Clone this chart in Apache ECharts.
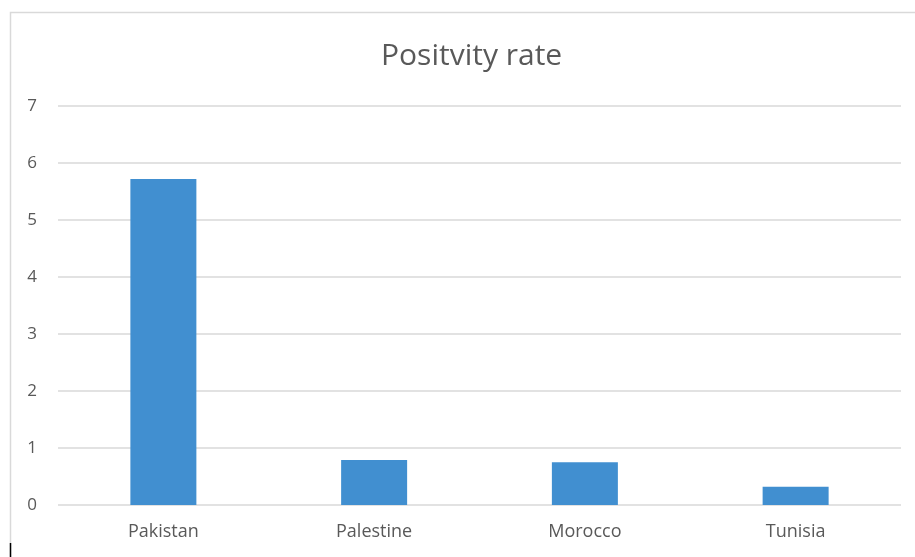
<!DOCTYPE html>
<html>
<head>
<meta charset="utf-8">
<script src="https://cdn.jsdelivr.net/npm/echarts@6/dist/echarts.min.js"></script>
<style>
  html, body { margin: 0; padding: 0; background: #fff; }
  #chart { width: 915px; height: 557px; }
</style>
</head>
<body>
<div id="chart"></div>
<script>
// data
const countries = ["Pakistan", "Palestine", "Morocco", "Tunisia"];
const positivity = [5.72, 0.79, 0.75, 0.32];
const yTicks = [0, 1, 2, 3, 4, 5, 6, 7];

const chart = echarts.init(document.getElementById("chart"));

chart.setOption({
  backgroundColor: "#fff",
  animation: false,
  title: {
    text: "Positvity rate",
    left: 376,
    top: 36,
    textStyle: {
      fontFamily: "Open Sans",
      fontWeight: "normal",
      fontSize: 30,
      color: "#595959",
    },
  },
  grid: { left: 58, right: 14, top: 106, bottom: 52 },
  xAxis: {
    type: "category",
    data: countries,
    axisLine: { show: false },
    axisTick: { show: false },
    axisLabel: {
      color: "#595959",
      fontFamily: "Open Sans",
      fontSize: 18,
      margin: 18,
    },
  },
  yAxis: {
    type: "value",
    min: yTicks[0],
    max: yTicks[yTicks.length - 1],
    interval: 1,
    axisLabel: {
      color: "#595959",
      fontFamily: "Open Sans",
      fontSize: 17,
      margin: 21,
    },
    splitLine: { lineStyle: { color: "#d9d9d9", width: 1.5 } },
  },
  series: [
    {
      type: "bar",
      data: positivity,
      barWidth: 66,
      itemStyle: { color: "#418fd0" },
    },
  ],
  graphic: [
    {
      type: "rect",
      shape: { x: 10.5, y: 12.5, width: 920, height: 560 },
      style: { fill: "none", stroke: "#d9d9d9", lineWidth: 1.5 },
      silent: true,
    },
    {
      type: "line",
      shape: { x1: 10.5, y1: 543, x2: 10.5, y2: 557 },
      style: { stroke: "#000", lineWidth: 1.5 },
      silent: true,
    },
  ],
});
</script>
</body>
</html>
